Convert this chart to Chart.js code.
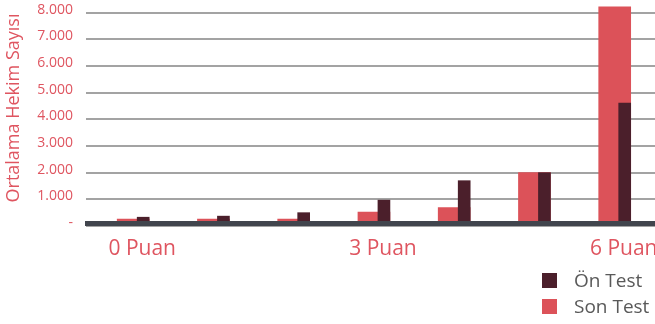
<!DOCTYPE html>
<html>
<head>
<meta charset="utf-8">
<script src="https://cdn.jsdelivr.net/npm/chart.js@4.4.1/dist/chart.umd.min.js"></script>
<style>
  html, body { margin: 0; padding: 0; background: #ffffff; overflow: hidden; width: 655px; height: 324px; }
  #wrap { position: relative; width: 655px; height: 324px; overflow: hidden; }
  canvas { position: absolute; left: 0; top: 0; }
  .leg { position: absolute; left: 542px; display: flex; align-items: center; font-family: "Open Sans", sans-serif; font-size: 19px; color: #595959; line-height: 15px; }
  .sw { width: 15px; height: 15px; margin-right: 17px; }
</style>
</head>
<body>
<div id="wrap">
  <canvas id="c" width="720" height="324"></canvas>
  <div class="leg" style="top:273px"><span class="sw" style="background:#4b1f2b"></span><span>Ön Test</span></div>
  <div class="leg" style="top:299px"><span class="sw" style="background:#dc5259"></span><span>Son Test</span></div>
</div>
<script>
const categories = ['0 Puan', '1 Puan', '2 Puan', '3 Puan', '4 Puan', '5 Puan', '6 Puan'];
const onTest  = [330, 370, 500, 970, 1700, 2000, 4610];
const sonTest = [260, 260, 260, 520, 690, 2000, 8220];
const yTicks = [0, 1000, 2000, 3000, 4000, 5000, 6000, 7000, 8000];
const seriesNames = ['Ön Test', 'Son Test'];
const yTitle = 'Ortalama Hekim Sayısı';

const RED = '#dc5259';
const DARK = '#4b1f2b';
const TEXT_RED = '#df5560';
const ON_SHIFT = 0.0125;
const SON_SHIFT = -0.112;

const fmt = v => v === 0 ? '-' : v.toLocaleString('de-DE');

const zeroLine = {
  id: 'zeroLine',
  afterDatasetsDraw(chart) {
    const y = chart.scales.y.getPixelForValue(0);
    const ctx = chart.ctx;
    ctx.save();
    ctx.fillStyle = '#41454d';
    ctx.fillRect(chart.chartArea.left - 1, y - 5, chart.chartArea.right - chart.chartArea.left + 1, 5);
    ctx.restore();
  }
};

new Chart(document.getElementById('c'), {
  type: 'bar',
  data: {
    datasets: [
      {
        label: seriesNames[0],
        data: onTest.map((v, i) => ({ x: i + ON_SHIFT, y: v })),
        backgroundColor: DARK,
        barThickness: 12,
        grouped: false
      },
      {
        label: seriesNames[1],
        data: sonTest.map((v, i) => ({ x: i + SON_SHIFT, y: v })),
        backgroundColor: RED,
        barThickness: 32,
        grouped: false
      }
    ]
  },
  options: {
    responsive: false,
    animation: false,
    layout: { padding: { top: 4, right: 0, bottom: 0, left: 0 } },
    plugins: { legend: { display: false }, tooltip: { enabled: false } },
    scales: {
      x: {
        type: 'linear',
        offset: false,
        min: -0.7,
        max: 7.2,
        grid: { display: false, drawTicks: false },
        border: { display: false },
        afterFit: s => { s.height = 98; s.paddingLeft = 0; s.paddingRight = 0; },
        ticks: {
          stepSize: 1,
          autoSkip: false,
          maxRotation: 0,
          includeBounds: false,
          padding: 10,
          color: TEXT_RED,
          font: { family: 'Open Sans', size: 21 },
          callback: v => (Number.isInteger(v) && v % 3 === 0 && categories[v]) ? categories[v] : ''
        }
      },
      y: {
        min: 0,
        max: 8330,
        afterFit: s => { s.width = 86; s.paddingTop = 0; s.paddingBottom = 0; },
        afterBuildTicks: s => { s.ticks = yTicks.map(v => ({ value: v })); },
        grid: { color: '#a3a3a3', lineWidth: 2, drawTicks: false },
        border: { display: false },
        ticks: {
          padding: 13,
          labelOffset: -3,
          color: TEXT_RED,
          font: { family: 'Open Sans', size: 14 },
          callback: v => fmt(v)
        },
        title: {
          display: true,
          text: '   ' + yTitle,
          color: TEXT_RED,
          font: { family: 'Open Sans', size: 18 },
          padding: { top: 3, bottom: 0 }
        }
      }
    }
  },
  plugins: [zeroLine]
});
</script>
</body>
</html>
